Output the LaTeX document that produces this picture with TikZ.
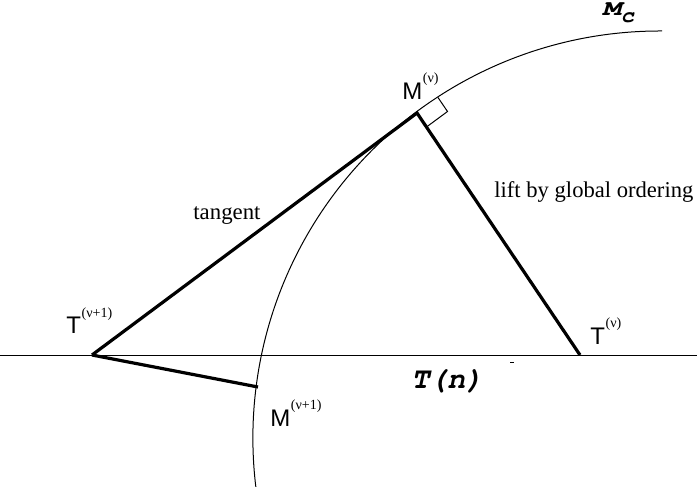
\documentclass[tikz,border=0pt]{standalone}
\usepackage[T1]{fontenc}
\usepackage{fontspec}
\setmainfont{Liberation Serif}
\setsansfont{Liberation Sans}
\setmonofont{Liberation Mono}
\usetikzlibrary{positioning}

\newcommand{\ptlabel}[2]{{\fontsize{12}{14}\selectfont\sffamily #1}\kern0.3pt\raisebox{8.5pt}{\fontsize{7}{8}\selectfont\rmfamily(#2)}}
\newcommand{\courbo}{\fontencoding{T1}\fontfamily{pcr}\fontseries{b}\fontshape{sl}\selectfont}

\begin{document}
\begin{tikzpicture}[x=0.5pt, y=-0.5pt, thinline/.style={line width=0.5pt}, thickline/.style={line width=1.6pt}, lbl/.style={inner sep=0pt, anchor=base west}]
        \useasboundingbox (0,0) rectangle (697,492);
        \coordinate (left) at (0,355);
        \coordinate (right) at (697,355);
        \coordinate (Mv) at (417,113);
        \coordinate (Tv) at (580,355);
        \coordinate (Tw) at (92,355);
        \coordinate (Mw) at (258,387);
        \coordinate (ctop) at (662,31);
        \coordinate (tick) at (510,362);

        % the curve M_c and the line T(n)
        \draw[thinline] (ctop) arc[start angle=89.7, end angle=186.9, radius=203.5pt];
        \draw[thinline] (left) -- (right);
        \draw[thinline] (tick) -- ++(4,0);

        \draw[thickline] (Tw) -- (Mv) -- (Tv);
        \draw[thickline] (Tw) -- (Mw);
        \draw[thinline] (Mv) ++(21,-15.5) -- ++(9.5,14) -- ++(-21,15.5);

        \node[lbl] (labMv) at (402,100) {\ptlabel{M}{ν}};
        \node[lbl] (labTw) at (66,334) {\ptlabel{T}{ν+1}};
        \node[lbl] (labTv) at (590,344) {\ptlabel{T}{ν}};
        \node[lbl] (labMw) at (270,426) {\ptlabel{M}{ν+1}};

        \node[lbl] (tangent) at (193,220) {\fontsize{11.4}{13}\selectfont tangent};
        \node[lbl] (lift) at (494,198) {\fontsize{11.3}{13}\selectfont lift by global ordering};
        \node[lbl] (Tn) at (411,388) {\fontsize{15}{17}\courbo T(n)};
        \node[lbl] (Mc) at (602,16) {\fontsize{11}{13}\courbo\scalebox{1.4}[1]{M}\raisebox{-3.5pt}{c}};
    \end{tikzpicture}
\end{document}
